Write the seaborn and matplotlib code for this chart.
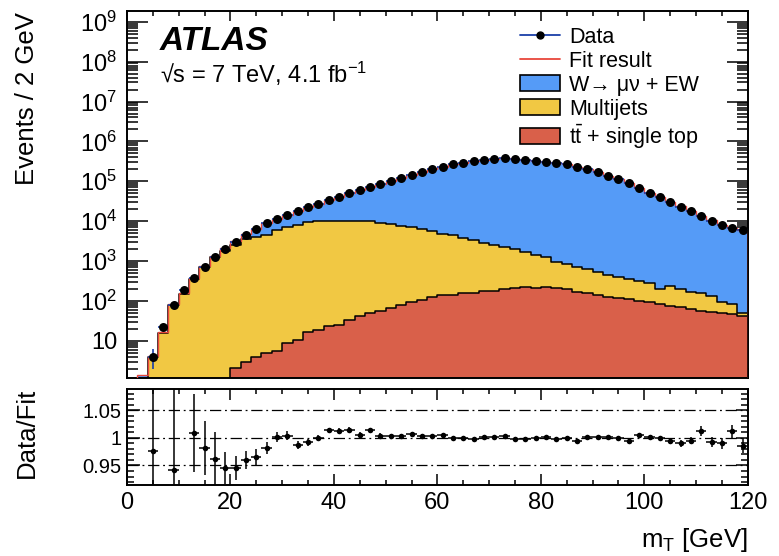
import numpy as np
import pandas as pd
import matplotlib
matplotlib.use("Agg")
import matplotlib.pyplot as plt
import seaborn as sns
from matplotlib.ticker import FixedLocator, MultipleLocator, LogLocator, FuncFormatter, NullFormatter
from matplotlib.lines import Line2D
from matplotlib.patches import Patch

# ---------------- data ----------------
bin_edges = np.arange(0, 122, 2)          # 2 GeV bins, 0..120 GeV
bin_centers = 0.5 * (bin_edges[:-1] + bin_edges[1:])
nan = np.nan

data = [nan, nan, 4.0, 22.7, 79, 189, 371, 724, 1288, 2010, 3060, 4510, 6270, 8850,
        11560, 14550, 18030, 22300, 27470, 33420, 41100, 50900, 59400, 71100, 84600,
        100600, 121000, 143000, 169000, 200000, 232300, 266700, 292400, 322600, 347700,
        362200, 376900, 362200, 342000, 328300, 309800, 292400, 266700, 232300, 200000,
        168300, 135800, 112200, 89100, 66800, 51800, 39700, 30800, 23100, 18030, 13500,
        10300, 8040, 6640, 6010]

ratio = [nan, nan, 0.9765, 1.35, 0.941, 1.20, 1.0085, 0.981, 0.961, 0.946, 0.946, 0.960,
         0.965, 0.981, 1.002, 1.004, 0.987, 0.992, 1.000, 1.0135, 1.012, 1.015, 1.006,
         1.0135, 1.004, 1.003, 1.003, 1.007, 1.004, 1.003, 1.005, 1.000, 1.000, 0.998,
         1.002, 1.001, 1.003, 0.998, 0.998, 1.000, 1.001, 0.998, 0.9995, 0.995, 1.001,
         1.001, 1.001, 1.000, 0.994, 1.0055, 1.001, 1.000, 0.994, 0.990, 0.995, 1.012,
         0.992, 0.990, 1.012, 0.986]

ratio_err = [nan, nan, 0.5, 0.22, 0.2, 0.07, 0.07, 0.049, 0.049, 0.029, 0.022, 0.017,
             0.015, 0.011, 0.009, 0.008, 0.007, 0.006, 0.006, 0.005, 0.005, 0.004,
             0.004, 0.004, 0.004, 0.004, 0.004,
             0.003, 0.003, 0.003, 0.003, 0.003, 0.003, 0.003, 0.003, 0.003, 0.003,
             0.003, 0.003, 0.003, 0.003, 0.003, 0.003, 0.003, 0.003, 0.003, 0.003, 0.003,
             0.004, 0.004,
             0.004, 0.004, 0.005, 0.006, 0.007, 0.009, 0.009, 0.010, 0.012, 0.013]

top = [0, 0, 0, 0, 0, 0, 0, 0, 0, 0,
       2.06, 3.0, 4.0, 4.9, 5.4, 8.7, 10.5, 17.0, 18.8, 24.0, 25.0, 33.4, 42.1, 49.2,
       57.1, 67.9, 79.4, 96, 106, 124, 141, 141, 156, 161, 178, 178, 200, 208, 220, 208,
       220, 208, 196, 171, 156, 141, 128, 117, 110, 102, 92.7, 84.1, 76.3, 69.5, 61.9,
       57.1, 54.0, 50.9, 47.2, 42.8]

multijet = [0, 0, 4.0, 16, 80, 150, 350, 700, 1260, 1820, 2533, 3513, 3904, 4503, 6007,
            7022, 8025, 9693, 10100, 10100, 10100, 10090, 10080, 10070, 8693, 8192, 7501,
            6854, 6384, 5556, 4719, 4369, 3569, 3219, 2712, 2357, 2096, 1802, 1500, 1214,
            1025, 758, 650, 553, 467, 401, 321, 289, 240, 215, 185, 112, 162, 126, 109, 99,
            79, 45, 37, 6.4]

fit_no_data = [0.0, 1.4]   # fit in the two lowest bins, where no data point is drawn

labels = ["Data", "Fit result", "W\u2192 \u03bc\u03bd + EW", "Multijets",
          r"$\mathrm{t\bar{t}}$ + single top"]

# ---------------- derived quantities ----------------
data = np.array(data, float)
ratio = np.array(ratio, float)
ratio_err = np.array(ratio_err, float)
top = np.array(top, float)
multijet = np.array(multijet, float)
fit_total = data / ratio
fit_total[:2] = fit_no_data
w_ew = np.clip(fit_total - top - multijet, 0, None)
cum_top = top
cum_mj = top + multijet
cum_all = top + multijet + w_ew
data_err = ratio_err * fit_total

# ---------------- style ----------------
sns.set_theme(style="ticks")
plt.rcParams["font.family"] = ["Liberation Sans", "DejaVu Sans"]
plt.rcParams["mathtext.fontset"] = "custom"
plt.rcParams["mathtext.rm"] = "Liberation Sans"
plt.rcParams["mathtext.it"] = "Liberation Sans:italic"
plt.rcParams["mathtext.bf"] = "Liberation Sans:bold"
plt.rcParams["axes.linewidth"] = 1.4
for key in ("text.color", "axes.labelcolor", "xtick.color", "ytick.color",
            "xtick.labelcolor", "ytick.labelcolor", "axes.edgecolor"):
    plt.rcParams[key] = "black"

W_COLOR = "#559BF7"
MJ_COLOR = "#F1C843"
TOP_COLOR = "#D9604A"
FIT_COLOR = "#E8473B"
DATA_ERR_COLOR = "#1A3FA8"

fig = plt.figure(figsize=(7.79, 5.56), dpi=100)
ax = fig.add_axes([0.163, 0.320, 0.797, 0.660])
axr = fig.add_axes([0.163, 0.128, 0.797, 0.172])

ax.set_yscale("log")

df = pd.DataFrame({"mt": bin_centers, "all": cum_all, "mj": cum_mj, "top": cum_top})
hist_kw = dict(data=df, x="mt", binwidth=2, binrange=(0, 120), element="step",
               fill=True, alpha=1, ax=ax)
sns.histplot(weights="all", color=W_COLOR, edgecolor="none", linewidth=0, **hist_kw)
sns.histplot(weights="mj", color=MJ_COLOR, edgecolor="black", linewidth=1.1, **hist_kw)
sns.histplot(weights="top", color=TOP_COLOR, edgecolor="black", linewidth=1.1, **hist_kw)
ax.stairs(fit_total, bin_edges, color=FIT_COLOR, linewidth=1.0, zorder=4)

mask = np.isfinite(data)
ax.errorbar(bin_centers[mask], data[mask], yerr=data_err[mask], xerr=1.0, fmt="none",
            ecolor=DATA_ERR_COLOR, elinewidth=1.2, capsize=0, zorder=5)
sns.scatterplot(x=bin_centers[mask], y=data[mask], color="black", s=42, edgecolor="black",
                linewidth=0, ax=ax, zorder=6)

ax.set_xlim(0, 120)
ax.set_ylim(1.16, 1.85e9)
ax.set_xlabel("")
ax.set_ylabel("")
ax.yaxis.set_major_locator(LogLocator(base=10, numticks=20))
ax.yaxis.set_minor_locator(LogLocator(base=10, subs=np.arange(2, 10), numticks=200))
ax.yaxis.set_minor_formatter(NullFormatter())


def log_fmt(v, pos):
    e = int(round(np.log10(v)))
    if e == 1:
        return "10"
    return r"$\mathregular{10^{%d}}$" % e


ax.yaxis.set_major_formatter(FuncFormatter(log_fmt))
ax.xaxis.set_major_locator(MultipleLocator(20))
ax.xaxis.set_minor_locator(MultipleLocator(5))
ax.tick_params(axis="x", which="both", labelbottom=False)
ax.tick_params(axis="both", which="both", direction="in", top=True, right=True,
               width=1.1, color="black")
ax.tick_params(axis="y", which="major", length=15, labelsize=17, pad=7)
ax.tick_params(axis="y", which="minor", length=8)
ax.tick_params(axis="x", which="major", length=7)
ax.tick_params(axis="x", which="minor", length=3.6)

ax.text(0.053, 0.894, "ATLAS", transform=ax.transAxes, fontsize=24, fontweight="bold",
        fontstyle="italic", va="baseline", ha="left")
ax.text(0.053, 0.804, "\u221as = 7 TeV, 4.1 fb$^{\\mathregular{-1}}$", transform=ax.transAxes,
        fontsize=17, va="baseline", ha="left")

handles = [
    Line2D([], [], color=DATA_ERR_COLOR, lw=1.3, marker="o", markersize=5,
           markerfacecolor="black", markeredgecolor="black"),
    Line2D([], [], color=FIT_COLOR, lw=1.3),
    Patch(facecolor=W_COLOR, edgecolor="black", linewidth=1.2),
    Patch(facecolor=MJ_COLOR, edgecolor="black", linewidth=1.2),
    Patch(facecolor=TOP_COLOR, edgecolor="black", linewidth=1.2),
]
ax.legend(handles, labels, loc="upper left", bbox_to_anchor=(0.633, 0.958), frameon=False,
          fontsize=15.5, handlelength=1.86, handleheight=0.8, labelspacing=0.14,
          handletextpad=0.42, borderpad=0, borderaxespad=0)

# ---------------- ratio panel ----------------
for lvl in (0.95, 1.0, 1.05):
    axr.axhline(lvl, color="black", linewidth=0.9, linestyle=(0, (9, 3, 1.5, 3)), zorder=1)

rmask = np.isfinite(ratio)
axr.errorbar(bin_centers[rmask], ratio[rmask], yerr=ratio_err[rmask], xerr=1.0, fmt="none",
             ecolor="black", elinewidth=1.1, capsize=0, zorder=3)
sns.scatterplot(x=bin_centers[rmask], y=ratio[rmask], color="black", s=16, linewidth=0,
                ax=axr, zorder=4)

axr.set_xlim(0, 120)
axr.set_ylim(0.915, 1.088)
axr.set_xlabel("")
axr.set_ylabel("")
axr.yaxis.set_major_locator(FixedLocator([0.95, 1.0, 1.05]))
axr.yaxis.set_major_formatter(FuncFormatter(lambda v, p: {0.95: "0.95", 1.0: "1", 1.05: "1.05"}[round(v, 2)]))
axr.yaxis.set_minor_locator(MultipleLocator(0.01))
axr.xaxis.set_major_locator(MultipleLocator(20))
axr.xaxis.set_minor_locator(MultipleLocator(5))
axr.tick_params(axis="both", which="both", direction="in", top=True, right=True,
                width=1.1, color="black")
axr.tick_params(axis="y", which="major", length=9, labelsize=14.5, pad=4)
axr.tick_params(axis="y", which="minor", length=5)
axr.tick_params(axis="x", which="major", length=8, labelsize=17, pad=5)
axr.tick_params(axis="x", which="minor", length=3.6)

fig.text(0.035, 0.978, "Events / 2 GeV", rotation=90, ha="center", va="top", fontsize=18.5)
fig.text(0.035, 0.302, "Data/Fit", rotation=90, ha="center", va="top", fontsize=18.5)
fig.text(0.960, 0.029, r"m$_\mathregular{T}$ [GeV]", ha="right", va="center", fontsize=18.5)

fig.savefig("out.png", dpi=100)
